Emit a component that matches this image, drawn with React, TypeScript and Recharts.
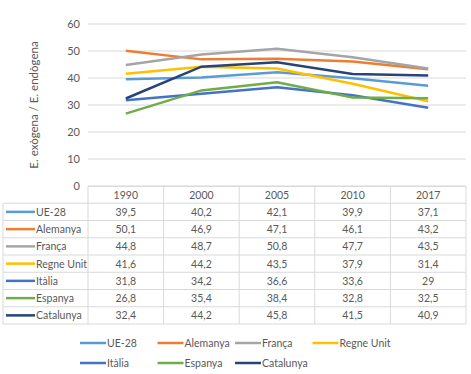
import React from 'react';
import { LineChart, Line, XAxis, YAxis, CartesianGrid } from 'recharts';

const years = ['1990', '2000', '2005', '2010', '2017'];
const ue28 = [39.5, 40.2, 42.1, 39.9, 37.1];
const alemanya = [50.1, 46.9, 47.1, 46.1, 43.2];
const franca = [44.8, 48.7, 50.8, 47.7, 43.5];
const regneUnit = [41.6, 44.2, 43.5, 37.9, 31.4];
const italia = [31.8, 34.2, 36.6, 33.6, 29];
const espanya = [26.8, 35.4, 38.4, 32.8, 32.5];
const catalunya = [32.4, 44.2, 45.8, 41.5, 40.9];
const yTicks = [0, 10, 20, 30, 40, 50, 60];

const series = [
  { key: 'ue28', name: 'UE-28', color: '#5B9BD5', values: ue28 },
  { key: 'alemanya', name: 'Alemanya', color: '#ED7D31', values: alemanya },
  { key: 'franca', name: 'França', color: '#A5A5A5', values: franca },
  { key: 'regneUnit', name: 'Regne Unit', color: '#FFC000', values: regneUnit },
  { key: 'italia', name: 'Itàlia', color: '#4472C4', values: italia },
  { key: 'espanya', name: 'Espanya', color: '#70AD47', values: espanya },
  { key: 'catalunya', name: 'Catalunya', color: '#264478', values: catalunya },
];

const data = years.map((y, i) => {
  const row: any = { year: y };
  series.forEach((s) => { row[s.key] = s.values[i]; });
  return row;
});

const W = 471;
const H = 374;
const PL = 88;
const PR = 466;
const colW = (PR - PL) / years.length;
const tableTop = 186;
const rowH = 17.25;
const FONT = 'Lato, "Open Sans", sans-serif';
const FS = 10.5;
const TXT = '#595959';
const GRID = '#d9d9d9';

const fmt = (v: number) => String(v).replace('.', ',');

export default function App() {
  const nRows = series.length + 1;
  const tableBottom = tableTop + nRows * rowH;
  return (
    <div style={{ position: 'absolute', left: 0, top: 0, width: W, height: H, background: '#fff', fontFamily: FONT, color: TXT, overflow: 'hidden' }}>
      <div style={{ position: 'absolute', left: 0, top: 0 }}>
        <LineChart width={W} height={200} data={data} margin={{ top: 24, right: W - PR, left: 0, bottom: 14 }} style={{ overflow: 'visible' }}>
          <CartesianGrid vertical={false} stroke={GRID} strokeWidth={1} />
          <XAxis dataKey="year" hide padding={{ left: colW / 2, right: colW / 2 }} />
          <YAxis
            width={PL}
            domain={[0, 60]}
            ticks={yTicks}
            axisLine={false}
            tickLine={false}
            tick={{ fill: TXT, fontSize: 11, fontFamily: FONT }}
          />
          {series.map((s) => (
            <Line
              key={s.key}
              dataKey={s.key}
              name={s.name}
              stroke={s.color}
              strokeWidth={2.5}
              dot={false}
              activeDot={false}
              isAnimationActive={false}
              type="linear"
            />
          ))}
        </LineChart>
      </div>
      <svg width={W} height={H} style={{ position: 'absolute', left: 0, top: 0, pointerEvents: 'none' }}>
        <text x={0} y={0} transform="translate(38,105) rotate(-90)" textAnchor="middle" fontSize={11.5} fill={TXT} fontFamily={FONT}>E. exògena / E. endògena</text>
        <line x1={PL} x2={PR} y1={tableTop + 0.5} y2={tableTop + 0.5} stroke={GRID} />
        {series.map((s, i) => (
          <line key={'h' + i} x1={3} x2={PR} y1={tableTop + (i + 1) * rowH} y2={tableTop + (i + 1) * rowH} stroke={GRID} />
        ))}
        <line x1={3} x2={PR} y1={tableBottom} y2={tableBottom} stroke={GRID} />
        <line x1={3} x2={3} y1={tableTop + rowH} y2={tableBottom} stroke={GRID} />
        {years.map((_, i) => (
          <line key={'v' + i} x1={PL + i * colW} x2={PL + i * colW} y1={tableTop} y2={tableBottom} stroke={GRID} />
        ))}
        <line x1={PR} x2={PR} y1={tableTop} y2={tableBottom} stroke={GRID} />
        {years.map((y, i) => (
          <text key={'y' + i} x={PL + (i + 0.5) * colW} y={tableTop + rowH / 2 + 4} textAnchor="middle" fontSize={FS} fill={TXT} fontFamily={FONT}>{y}</text>
        ))}
        {series.map((s, r) => {
          const cy = tableTop + (r + 1.5) * rowH;
          return (
            <g key={'r' + r}>
              <line x1={6} x2={35} y1={cy} y2={cy} stroke={s.color} strokeWidth={2.5} />
              <text x={36} y={cy + 4} fontSize={FS} fill={TXT} fontFamily={FONT}>{s.name}</text>
              {s.values.map((v, i) => (
                <text key={i} x={PL + (i + 0.5) * colW} y={cy + 4} textAnchor="middle" fontSize={FS} fill={TXT} fontFamily={FONT}>{fmt(v)}</text>
              ))}
            </g>
          );
        })}
        {series.map((s, i) => {
          const row = i < 4 ? 0 : 1;
          const col = i < 4 ? i : i - 4;
          const lx = 80 + col * 77.5;
          const ly = row === 0 ? 343 : 363;
          return (
            <g key={'l' + i}>
              <line x1={lx} x2={lx + 26} y1={ly} y2={ly} stroke={s.color} strokeWidth={2.5} />
              <text x={lx + 27} y={ly + 4} fontSize={FS} fill={TXT} fontFamily={FONT}>{s.name}</text>
            </g>
          );
        })}
      </svg>
    </div>
  );
}
